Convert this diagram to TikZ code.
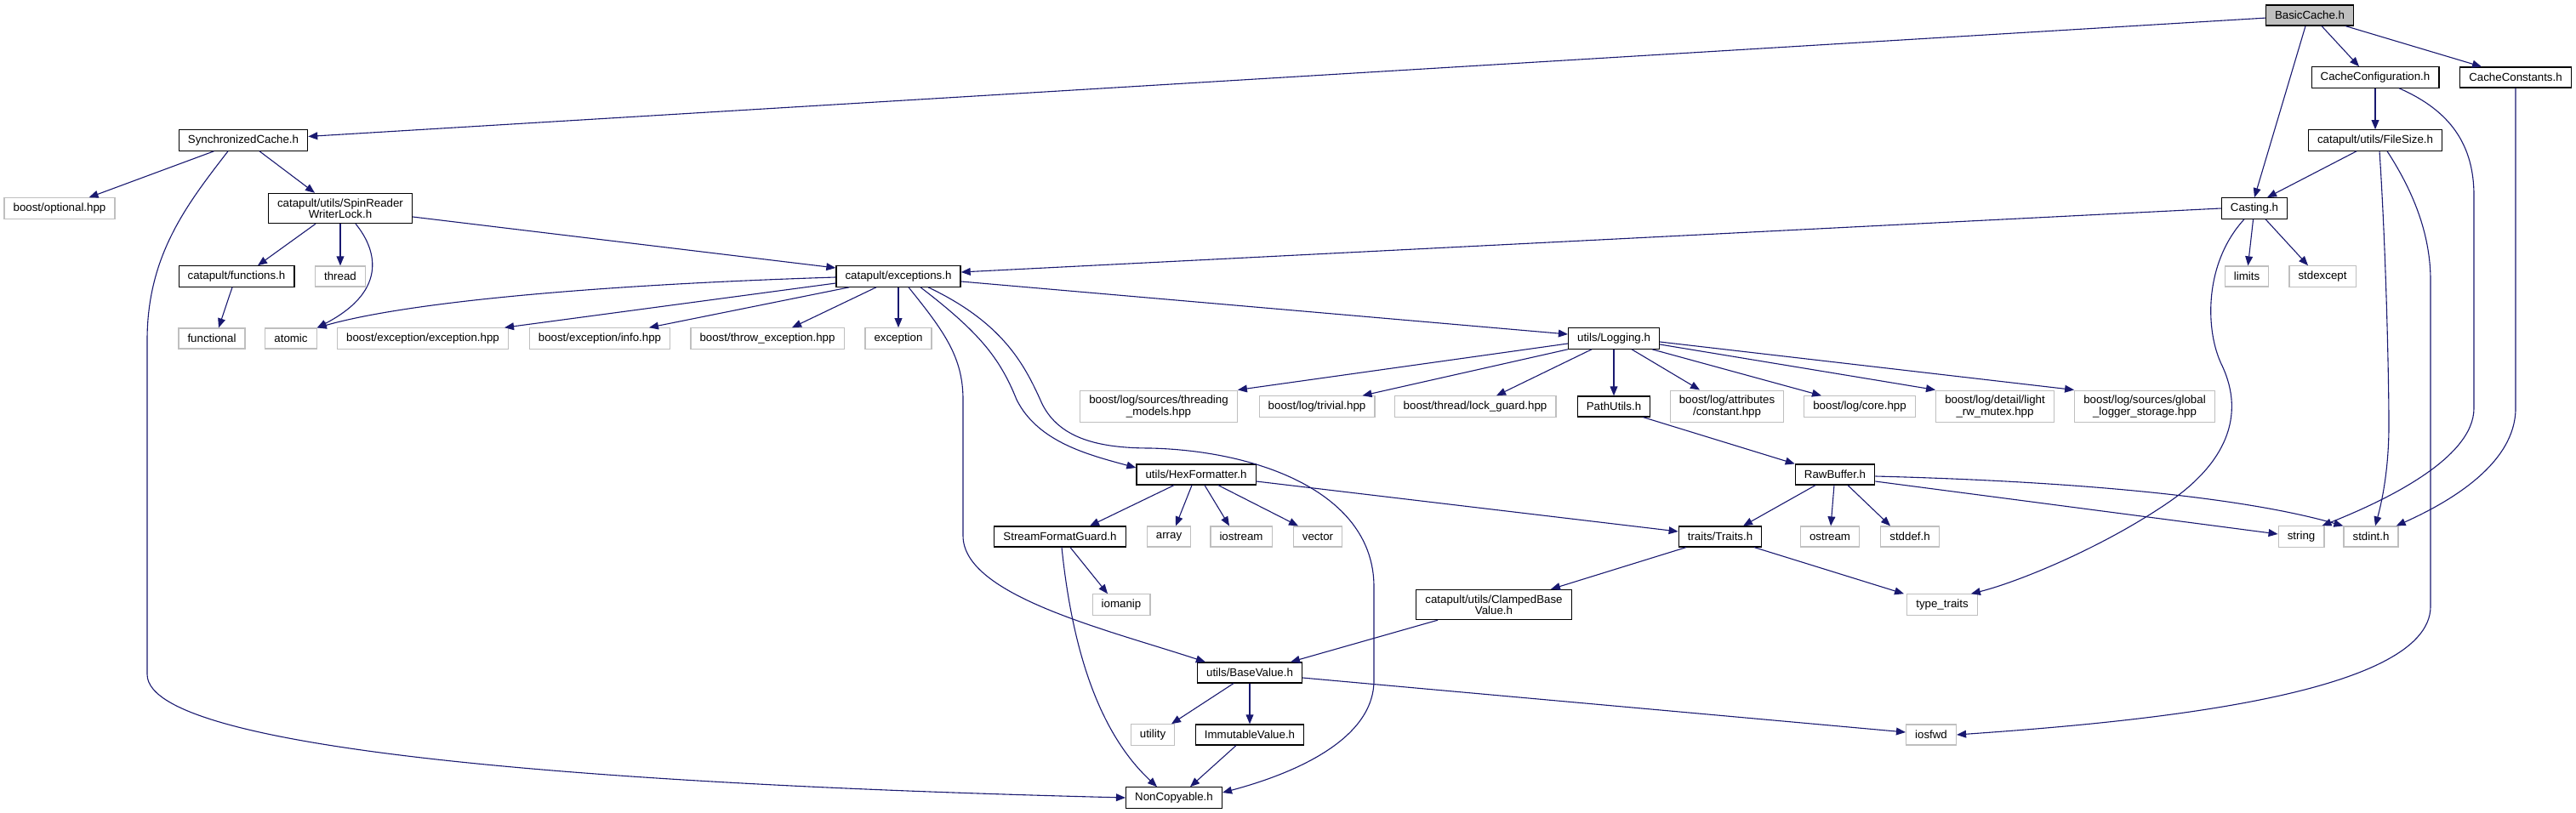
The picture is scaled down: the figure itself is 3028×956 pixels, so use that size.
\documentclass[tikz,border=0pt]{standalone}
\usepackage{fontspec}
\setmainfont{Liberation Sans}
\usetikzlibrary{arrows.meta,calc}
\definecolor{edgec}{HTML}{191970}
\definecolor{extc}{HTML}{BFBFBF}
\begin{document}
\begin{tikzpicture}[x=0.5pt,y=-0.5pt,
  box/.style={rectangle,draw=black,fill=white,line width=0.6pt,font=\fontsize{6.65pt}{6.7pt}\selectfont,inner xsep=5.3pt,inner ysep=3pt,minimum height=12pt,align=center},
  ext/.style={box,draw=extc},
  root/.style={box,fill=extc},
  arr/.style={draw=edgec,line width=0.55pt,-{Triangle[length=5.5pt,width=4.4pt]}}]
\useasboundingbox (0,0) rectangle (3028,956);
% nodes
\node[root] (basic) at (2715,18) {BasicCache.h};
\node[box] (config) at (2792,91) {CacheConfiguration.h};
\node[box] (constants) at (2957,91) {CacheConstants.h};
\node[box] (filesize) at (2792,165) {catapult/utils/FileSize.h};
\node[box] (sync) at (286,165) {SynchronizedCache.h};
\node[ext] (optional) at (70,245) {boost/optional.hpp};
\node[box] (spin) at (400,245) {catapult/utils/SpinReader\\WriterLock.h};
\node[box] (casting) at (2650,245) {Casting.h};
\node[box] (functions) at (278,325) {catapult/functions.h};
\node[ext] (thread) at (400,325) {thread};
\node[box] (exceptions) at (1056,325) {catapult/exceptions.h};
\node[ext] (limits) at (2641,325) {limits};
\node[ext] (stdexcept) at (2730,325) {stdexcept};
\node[ext] (functional) at (249,398) {functional};
\node[ext] (atomic) at (342,398) {atomic};
\node[ext] (bexc) at (497,398) {boost/exception/exception.hpp};
\node[ext] (binfo) at (705,398) {boost/exception/info.hpp};
\node[ext] (bthrow) at (902,398) {boost/throw\_exception.hpp};
\node[ext] (exception) at (1056,398) {exception};
\node[box] (logging) at (1897,398) {utils/Logging.h};
\node[ext] (threading) at (1362,478) {boost/log/sources/threading\\\_models.hpp};
\node[ext] (trivial) at (1548,478) {boost/log/trivial.hpp};
\node[ext] (lockguard) at (1734,478) {boost/thread/lock\_guard.hpp};
\node[box] (pathutils) at (1897,478) {PathUtils.h};
\node[ext] (attrconst) at (2030,478) {boost/log/attributes\\/constant.hpp};
\node[ext] (core) at (2186,478) {boost/log/core.hpp};
\node[ext] (lightrw) at (2345,478) {boost/log/detail/light\\\_rw\_mutex.hpp};
\node[ext] (global) at (2521,478) {boost/log/sources/global\\\_logger\_storage.hpp};
\node[box] (hex) at (1406,558) {utils/HexFormatter.h};
\node[box] (rawbuffer) at (2157,558) {RawBuffer.h};
\node[box] (sfg) at (1246,631) {StreamFormatGuard.h};
\node[ext] (array) at (1374,631) {array};
\node[ext] (iostream) at (1459,631) {iostream};
\node[ext] (vector) at (1549,631) {vector};
\node[box] (traits) at (2022,631) {traits/Traits.h};
\node[ext] (ostream) at (2151,631) {ostream};
\node[ext] (stddef) at (2245,631) {stddef.h};
\node[ext] (string) at (2705,631) {string};
\node[ext] (stdint) at (2787,631) {stdint.h};
\node[ext] (iomanip) at (1318,711) {iomanip};
\node[box] (clamped) at (1756,711) {catapult/utils/ClampedBase\\Value.h};
\node[ext] (typetraits) at (2283,711) {type\_traits};
\node[box] (basevalue) at (1469,791) {utils/BaseValue.h};
\node[ext] (utility) at (1355,864) {utility};
\node[box] (immutable) at (1469,864) {ImmutableValue.h};
\node[ext] (iosfwd) at (2270,864) {iosfwd};
\node[box] (noncopy) at (1380,938) {NonCopyable.h};
% edges from BasicCache
\draw[arr] (basic) -- (sync);
\draw[arr] ($(basic.south)+(-5,0)$) -- (casting.north);
\draw[arr] ($(basic.south)+(14,0)$) -- ($(config.north)+(-19,0)$);
\draw[arr] ($(basic.south)+(42,0)$) -- ($(constants.north)+(-40,0)$);
% CacheConfiguration / CacheConstants / FileSize
\draw[arr] (config) -- (filesize);
\draw[arr] ($(config.south)+(28,0)$) .. controls (2880,130) and (2908,170) .. (2908,230) -- (2908,480) .. controls (2908,540) and (2800,590) .. ($(string.north east)+(-3,0)$);
\draw[arr] (constants.south) -- (2957,480) .. controls (2957,545) and (2880,590) .. ($(stdint.north east)+(-3,0)$);
\draw[arr] ($(filesize.south)+(-22,0)$) -- ($(casting.north)+(15,0)$);
\draw[arr] ($(filesize.south)+(5,0)$) .. controls (2805,300) and (2808,450) .. (2808,500) .. controls (2808,560) and (2797,600) .. ($(stdint.north)+(5,0)$);
\draw[arr] ($(filesize.south)+(14,0)$) .. controls (2840,230) and (2857,280) .. (2857,330) -- (2857,713) .. controls (2857,820) and (2500,850) .. (iosfwd.east);
% Casting
\draw[arr] (casting.west) -- ($(exceptions.east)+(0,-5)$);
\draw[arr] (casting) -- (limits);
\draw[arr] ($(casting.south)+(13,0)$) -- ($(stdexcept.north)+(-17,0)$);
\draw[arr] ($(casting.south)+(-12,0)$) .. controls (2590,310) and (2592,390) .. (2612,430) .. controls (2640,490) and (2615,545) .. (2550,590) .. controls (2470,645) and (2370,685) .. ($(typetraits.north east)+(-8,0)$);
% SynchronizedCache
\draw[arr] (sync) -- (optional);
\draw[arr] ($(sync.south)+(19,0)$) -- ($(spin.north)+(-30,0)$);
\draw[arr] ($(sync.south)+(-18,0)$) .. controls (220,240) and (173,300) .. (173,400) -- (173,793) .. controls (173,890) and (800,925) .. (noncopy.west);
% SpinReaderWriterLock
\draw[arr] ($(spin.south)+(-29,0)$) -- ($(functions.north)+(25,0)$);
\draw[arr] (spin) -- (thread);
\draw[arr] ($(spin.south)+(18,0)$) .. controls (440,290) and (460,340) .. (atomic.north east);
\draw[arr] ($(spin.east)+(0,10)$) -- ($(exceptions.west)+(0,-10)$);
\draw[arr] ($(functions.south)+(-5,0)$) -- ($(functional.north)+(8,0)$);
% exceptions
\draw[arr] ($(exceptions.west)+(0,1)$) .. controls (700,335) and (480,355) .. (atomic.north east);
\draw[arr] ($(exceptions.west)+(0,8)$) -- ($(bexc.north east)+(-5,0)$);
\draw[arr] ($(exceptions.south west)+(16,0)$) -- ($(binfo.north)+(58,0)$);
\draw[arr] ($(exceptions.south)+(-26,0)$) -- ($(bthrow.north)+(29,0)$);
\draw[arr] (exceptions) -- (exception);
\draw[arr] ($(exceptions.east)+(0,6)$) -- ($(logging.west)+(0,-5)$);
\draw[arr] ($(exceptions.south)+(26,0)$) .. controls (1150,390) and (1175,420) .. (1195,470) .. controls (1220,520) and (1280,535) .. ($(hex.west)+(0,-8)$);
\draw[arr] ($(exceptions.south)+(35,0)$) .. controls (1180,380) and (1205,430) .. (1225,475) .. controls (1245,515) and (1290,527) .. (1352,527) .. controls (1480,530) and (1615,580) .. (1615,690) -- (1615,800) .. controls (1615,870) and (1520,910) .. ($(noncopy.east)+(0,-6)$);
\draw[arr] ($(exceptions.south)+(12,0)$) .. controls (1110,390) and (1132,420) .. (1132,470) -- (1132,630) .. controls (1132,700) and (1300,740) .. ($(basevalue.north west)+(10,0)$);
% Logging
\draw[arr] ($(logging.west)+(0,6)$) -- (threading.north east);
\draw[arr] (logging.south west) -- ($(trivial.north east)+(-15,0)$);
\draw[arr] ($(logging.south)+(-26,0)$) -- ($(lockguard.north)+(25,0)$);
\draw[arr] (logging) -- (pathutils);
\draw[arr] ($(logging.south)+(21,0)$) -- ($(attrconst.north)+(-32,0)$);
\draw[arr] ($(logging.south)+(45,0)$) -- ($(core.north)+(-45,0)$);
\draw[arr] ($(logging.east)+(0,7)$) -- (lightrw.north west);
\draw[arr] ($(logging.east)+(0,4)$) -- (global.north west);
% PathUtils / RawBuffer
\draw[arr] ($(pathutils.south east)+(-9,0)$) -- (rawbuffer.north west);
\draw[arr] ($(rawbuffer.south)+(-23,0)$) -- ($(traits.north)+(27,0)$);
\draw[arr] (rawbuffer) -- (ostream);
\draw[arr] ($(rawbuffer.south)+(15,0)$) -- ($(stddef.north)+(-23,0)$);
\draw[arr] ($(rawbuffer.east)+(0,8)$) -- ($(string.west)+(0,-3)$);
\draw[arr] ($(rawbuffer.east)+(0,2)$) .. controls (2400,565) and (2620,580) .. (stdint.north west);
% HexFormatter
\draw[arr] ($(hex.south)+(-26,0)$) -- ($(sfg.north)+(35,0)$);
\draw[arr] ($(hex.south)+(-5,0)$) -- ($(array.north)+(8,0)$);
\draw[arr] ($(hex.south)+(10,0)$) -- ($(iostream.north)+(-14,0)$);
\draw[arr] ($(hex.south)+(26,0)$) -- ($(vector.north)+(-23,0)$);
\draw[arr] ($(hex.east)+(0,8)$) -- ($(traits.west)+(0,-6)$);
% StreamFormatGuard
\draw[arr] ($(sfg.south)+(12,0)$) -- ($(iomanip.north)+(-16,0)$);
\draw[arr] ($(sfg.south)+(2,0)$) .. controls (1260,760) and (1290,860) .. ($(noncopy.north)+(-20,0)$);
% Traits
\draw[arr] ($(traits.south)+(-40,0)$) -- ($(clamped.north)+(67,0)$);
\draw[arr] ($(traits.south)+(40,0)$) -- ($(typetraits.north)+(-45,0)$);
% ClampedBaseValue / BaseValue / ImmutableValue
\draw[arr] ($(clamped.south)+(-66,0)$) -- ($(basevalue.north)+(48,0)$);
\draw[arr] ($(basevalue.south)+(-19,0)$) -- ($(utility.north)+(22,0)$);
\draw[arr] (basevalue) -- (immutable);
\draw[arr] ($(basevalue.east)+(0,6)$) -- ($(iosfwd.west)+(0,-3)$);
\draw[arr] ($(immutable.south)+(-16,0)$) -- ($(noncopy.north)+(19,0)$);
\end{tikzpicture}
\end{document}
